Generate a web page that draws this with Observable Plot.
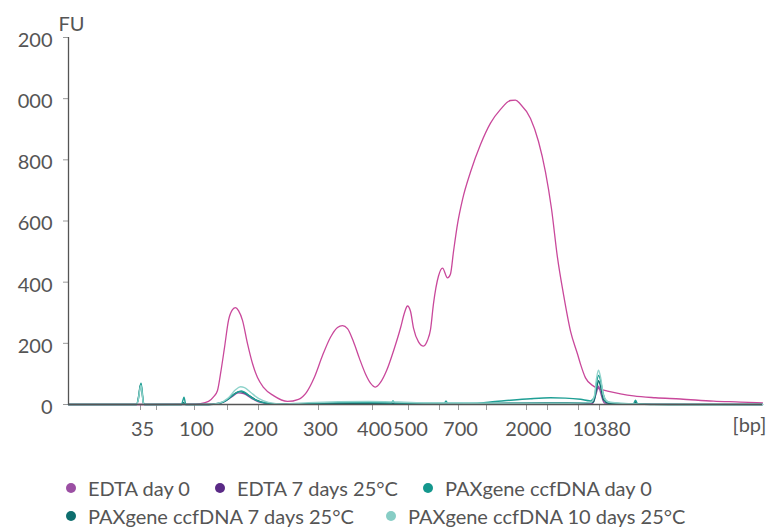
<!DOCTYPE html>
<html><head><meta charset="utf-8">
<script src="https://cdn.jsdelivr.net/npm/d3@7"></script>
<script src="https://cdn.jsdelivr.net/npm/@observablehq/plot@0.6"></script>
<style>
body{margin:0;background:#fff;font-family:Lato,sans-serif;width:766px;}
#legend{position:relative;height:78px;color:#555;font-size:20px;}
.item{position:absolute;display:flex;align-items:center;white-space:nowrap;height:24px;}
.dot{width:10px;height:10px;border-radius:50%;margin-right:12px;flex:none;}
</style></head><body><div id="chart"></div><div id="legend"></div>
<script>
// migration position (arbitrary units along the run) and fluorescence (FU)
const edta7T = [0,82,122,132,140,145,149,152,156,160,164,167,170,174,179,184,189,195,205,219,230,238,246,254,262,269,274,279,285,291,297,302,307,312,318,325,332,336,339,342,345,350,355,359,362,365,370,374,379,382,385,389,394,402,412,422,432,442,447,452,462,470,477,483,489,495,502,509,512,517,525,532,539,552,565,587,612,645,672,694];
const edta7V = [0,0,1,3,10,25,46,100,186,275,310,317,307,275,199,134,88,56,29,10,17,40,90,160,220,252,258,248,205,150,100,70,57,72,110,175,250,300,322,305,250,205,191,210,245,330,420,446,414,427,500,590,670,760,850,920,965,994,995,982,935,860,760,640,480,360,240,165,132,87,60,50,44,35,28,22,18,11,8,5];

const edta0T = [0,140,155,163,170,175,183,193,210,300,400,524,528,530,532,536,560,694];
const edta0V = [0,0,8,25,38,36,20,6,1,2,2,3,40,60,40,5,2,0];

const pax10T = [0,68,70,71.5,72.5,73.5,75,76,140,150,160,167,172,176,182,190,200,215,240,270,300,330,360,400,450,500,522,526,528,530,532,535,540,560,600,694];
const pax10V = [0,0,20,52,62,40,3,0,0,4,22,48,58,55,40,20,7,2,6,9,10,8,5,4,4,4,6,30,85,112,90,30,8,3,1,0];

const pax0T = [0,68,70,71.5,72.5,73.5,75,76,113,114.5,115.5,117,118,140,147,157,164,170,173,177,182,189,197,212,232,252,282,312,323,324.5,326,347,362,376,377.5,379,402,422,442,462,482,497,512,522,526,528,530,532,534,537,542,562,565,567,569,582,694];
const pax0V = [0,0,20,55,70,50,5,0,0,15,24,3,0,0,2,12,30,42,44,38,25,12,5,1,2,5,7,6,5,12,5,4,4,4,12,4,4,8,14,19,22,21,17,12,25,70,95,80,45,15,6,2,3,14,3,0,0];

const pax7T = [0,68,70,71.5,72.5,73.5,75,76,113,115,117,140,150,160,166,171,175,181,188,197,215,245,290,340,400,440,480,515,525,528,530,532,535,540,566,567,569,600,694];
const pax7V = [0,0,25,58,66,40,4,0,0,6,0,0,3,18,35,42,40,28,14,5,1,3,4,3,3,5,6,5,8,50,78,60,15,4,2,9,2,0,0];

const seriesNames = ["EDTA day 0","EDTA 7 days 25°C","PAXgene ccfDNA day 0","PAXgene ccfDNA 7 days 25°C","PAXgene ccfDNA 10 days 25°C"];
const legendColors = ["#9b4fa3","#5a2a86","#14978d","#0e6e6e","#87cdc5"];
const lineColors = {"EDTA day 0":"#9b4fa3","EDTA 7 days 25°C":"#c9489b","PAXgene ccfDNA day 0":"#1f9f95","PAXgene ccfDNA 7 days 25°C":"#0e6e6e","PAXgene ccfDNA 10 days 25°C":"#8fd3cb"};

const xTickPos = [72,88,126,159,190,250,304,340,371,390,418,458,479,510,531];
const xTickLabels = ["35","","100","","200","300","400","500","","700","","2000","","","10380"];
const yTicks = [0,200,400,600,800,1000,1200];
const yTickLabels = ["0","200","400","600","800","000","200"];

function rows(name, T, V){ return T.map((t,i)=>({series:name, t, v:V[i]})); }
const drawOrder = [
  rows("EDTA 7 days 25°C", edta7T, edta7V),
  rows("EDTA day 0", edta0T, edta0V),
  rows("PAXgene ccfDNA 7 days 25°C", pax7T, pax7V),
  rows("PAXgene ccfDNA day 0", pax0T, pax0V),
  rows("PAXgene ccfDNA 10 days 25°C", pax10T, pax10V)
];

const lineMarks = drawOrder.map(d => Plot.line(d, {x:"t", y:"v", stroke: lineColors[d[0].series], strokeWidth: d[0].series==="EDTA 7 days 25°C"?1.3:1.4, curve:"monotone-x"}));

const chart = Plot.plot({
  width:766, height:450,
  marginLeft:68, marginRight:4, marginTop:37, marginBottom:46,
  style:{fontFamily:"Lato, sans-serif", fontSize:"20px", color:"#555", background:"#fff", overflow:"visible"},
  x:{domain:[0,694], axis:null},
  y:{domain:[0,1200], axis:null},
  marks:[
    Plot.axisY({ticks:yTicks, tickSize:5, tickFormat:()=>"", color:"#9a9a9a", label:null}),
    Plot.axisY({ticks:yTicks, tickSize:0, tickPadding:16, dy:3, tickFormat:(d)=>yTickLabels[yTicks.indexOf(d)], color:"#555", label:null}),
    Plot.axisX({ticks:xTickPos, tickSize:6, tickFormat:()=>"", color:"#9a9a9a", label:null}),
    Plot.axisX({ticks:xTickPos, tickSize:0, tickPadding:17, dx:2, tickFormat:(d)=>xTickLabels[xTickPos.indexOf(d)], color:"#555", label:null}),
    ...lineMarks,
    Plot.ruleX([0], {stroke:"#555", strokeWidth:1.3}),
    Plot.ruleY([0], {stroke:"#555", strokeWidth:1.3}),
    Plot.text(["FU"], {frameAnchor:"top-left", dx:3, dy:-21, textAnchor:"middle", fill:"#555"}),
    Plot.text(["[bp]"], {frameAnchor:"bottom-right", dx:4, dy:27, textAnchor:"end", fill:"#555"})
  ]
});
document.getElementById("chart").appendChild(chart);

const legendPos = [[66,26],[215,26],[423,26],[66,54],[386,54]];
const legend = document.getElementById("legend");
seriesNames.forEach((n,i)=>{
  const it = document.createElement("div");
  it.className="item";
  it.style.left = legendPos[i][0]+"px";
  it.style.top = legendPos[i][1]+"px";
  it.innerHTML = `<span class="dot" style="background:${legendColors[i]}"></span><span>${n}</span>`;
  legend.appendChild(it);
});
</script></body></html>
